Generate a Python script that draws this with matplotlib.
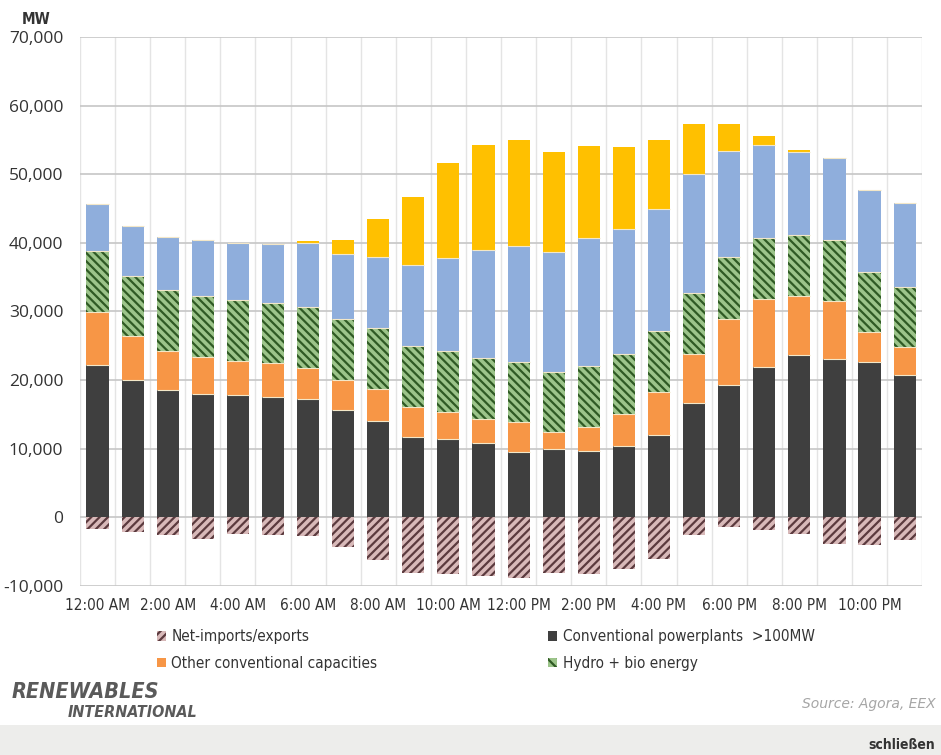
import matplotlib
matplotlib.use("Agg")
import matplotlib.pyplot as plt
from matplotlib import font_manager
from matplotlib.patches import Patch
import numpy as np

# hourly load by source, MW (stacked from the bottom up)
hours = ["12:00 AM", "1:00 AM", "2:00 AM", "3:00 AM", "4:00 AM", "5:00 AM",
         "6:00 AM", "7:00 AM", "8:00 AM", "9:00 AM", "10:00 AM", "11:00 AM",
         "12:00 PM", "1:00 PM", "2:00 PM", "3:00 PM", "4:00 PM", "5:00 PM",
         "6:00 PM", "7:00 PM", "8:00 PM", "9:00 PM", "10:00 PM", "11:00 PM"]
net_imports = [-1750, -2150, -2650, -3100, -2500, -2650, -2750, -4350,
               -6200, -8050, -8250, -8500, -8850, -8050, -8200, -7500,
               -6150, -2650, -1350, -1900, -2400, -3850, -4100, -3350]
conventional = [22250, 20000, 18550, 17950, 17800, 17550, 17300, 15600,
                14050, 11700, 11450, 10850, 9550, 10000, 9650, 10350,
                12050, 16700, 19250, 21950, 23600, 23000, 22650, 20700]
other_conv = [7700, 6400, 5700, 5450, 4950, 4900, 4400, 4400,
              4700, 4400, 3900, 3450, 4400, 2450, 3500, 4700,
              6150, 7150, 9700, 9800, 8600, 8500, 4300, 4050]
hydro_bio = [8850, 8750, 8900, 8850, 8900, 8850, 8900, 8850,
             8850, 8900, 8900, 8850, 8750, 8750, 8950, 8750,
             8950, 8900, 9000, 8900, 8900, 8900, 8850, 8850]
wind = [6800, 7300, 7700, 8100, 8300, 8500, 9350, 9550,
        10350, 11800, 13600, 15800, 16800, 17500, 18600, 18200,
        17850, 17350, 15400, 13600, 12100, 11900, 11900, 12250]
solar = [0, 0, 0, 0, 0, 0, 250, 2050,
         5450, 9850, 13750, 15350, 15450, 14600, 13450, 11900,
         9950, 7150, 3900, 1300, 350, 0, 0, 0]

# pick a narrow face if one is installed, otherwise Roboto
narrow_fp = None
for f in font_manager.fontManager.ttflist:
    if ("Narrow" in f.name or "Condensed" in f.name or f.stretch == "condensed") \
            and f.style == "normal" and f.weight in (400, "normal", "regular"):
        narrow_fp = f
        break
if narrow_fp is not None:
    narrow = dict(family=narrow_fp.name, stretch=narrow_fp.stretch)
    nsize = 11
else:
    narrow = dict(family="Roboto")
    nsize = 10.5

fig = plt.figure(figsize=(9.41, 7.55), dpi=100)
ax = fig.add_axes([0.085, 0.224, 0.895, 0.727])

x = np.arange(len(hours))
w = 0.63
plt.rcParams["hatch.linewidth"] = 1.6

ax.bar(x, net_imports, w, color="#d8b9b9", edgecolor="#5b3a3e", hatch="////", linewidth=0, zorder=3)
bottom = np.zeros(len(hours))
ax.bar(x, conventional, w, bottom=bottom, color="#3f3f3f", linewidth=0, zorder=3)
bottom += conventional
ax.bar(x, other_conv, w, bottom=bottom, color="#f79646", linewidth=0, zorder=3)
bottom += other_conv
ax.bar(x, hydro_bio, w, bottom=bottom, color="#9cc48a", edgecolor="#2f5a24", hatch="\\\\\\\\", linewidth=0, zorder=3)
bottom += hydro_bio
ax.bar(x, wind, w, bottom=bottom, color="#8faedc", linewidth=0, zorder=3)
bottom += wind
ax.bar(x, solar, w, bottom=bottom, color="#ffc000", linewidth=0, zorder=3)

# thin light separators between the stacked segments
sep = np.cumsum([conventional, other_conv, hydro_bio, wind], axis=0)
for row in sep:
    ax.hlines(row, x - w / 2, x + w / 2, colors="#f3e7c8", linewidth=0.8, zorder=4)

ax.set_xlim(-0.5, 23.5)
ax.set_ylim(-10000, 70000)
ax.set_yticks(np.arange(-10000, 70001, 10000))
ax.set_yticklabels([f"{v:,}" for v in range(-10000, 70001, 10000)],
                   fontsize=12.5, color="#333333", family="Open Sans")
ax.set_xticks(x[::2])
ax.set_xticklabels(hours[::2], fontsize=nsize, color="#333333", **narrow)
ax.set_xticks(np.arange(-0.5, 24, 1), minor=True)
ax.tick_params(axis="both", which="both", length=0)
ax.tick_params(axis="x", pad=9)
ax.tick_params(axis="y", pad=12)

ax.grid(axis="y", which="major", color="#c6c6c6", linewidth=1.2, zorder=0)
ax.grid(axis="x", which="minor", color="#e4e4e4", linewidth=1.0, zorder=0)
for s in ax.spines.values():
    s.set_visible(False)

fig.text(0.038, 0.974, "MW", fontsize=nsize, fontweight="bold", color="#333333",
         ha="center", va="center", **narrow)

# legend in two columns under the axis
leg_prop = font_manager.FontProperties(size=nsize, **narrow)
leg_kw = dict(loc="upper left", frameon=False, handlelength=0.6, handleheight=0.6,
              handletextpad=0.35, labelspacing=0.78, prop=leg_prop, labelcolor="#333333")
fig.legend(handles=[Patch(facecolor="#d8b9b9", edgecolor="#5b3a3e", hatch="////", linewidth=0),
                    Patch(facecolor="#f79646", linewidth=0)],
           labels=["Net-imports/exports", "Other conventional capacities"],
           bbox_to_anchor=(0.152, 0.185), **leg_kw)
fig.legend(handles=[Patch(facecolor="#3f3f3f", linewidth=0),
                    Patch(facecolor="#9cc48a", edgecolor="#2f5a24", hatch="\\\\\\", linewidth=0)],
           labels=["Conventional powerplants  >100MW", "Hydro + bio energy"],
           bbox_to_anchor=(0.568, 0.185), **leg_kw)

fig.text(0.012, 0.083, "RENEWABLES", fontsize=15.5, fontweight="bold", style="italic",
         color="#5a5a5a", va="center", **narrow)
fig.text(0.072, 0.056, "INTERNATIONAL", fontsize=11.5, fontweight="bold", style="italic",
         color="#5a5a5a", va="center", **narrow)
fig.text(0.994, 0.068, "Source: Agora, EEX", fontsize=10, style="italic",
         color="#a6a6a6", ha="right", va="center")

# grey strip along the bottom edge
fig.patches.append(plt.Rectangle((0, 0), 1, 0.04, transform=fig.transFigure,
                                 facecolor="#ededeb", edgecolor="none", zorder=0))
fig.text(0.994, 0.013, "schließen", fontsize=10, fontweight="bold", color="#333333",
         ha="right", va="center", **narrow)

fig.savefig("out.png", dpi=100)
